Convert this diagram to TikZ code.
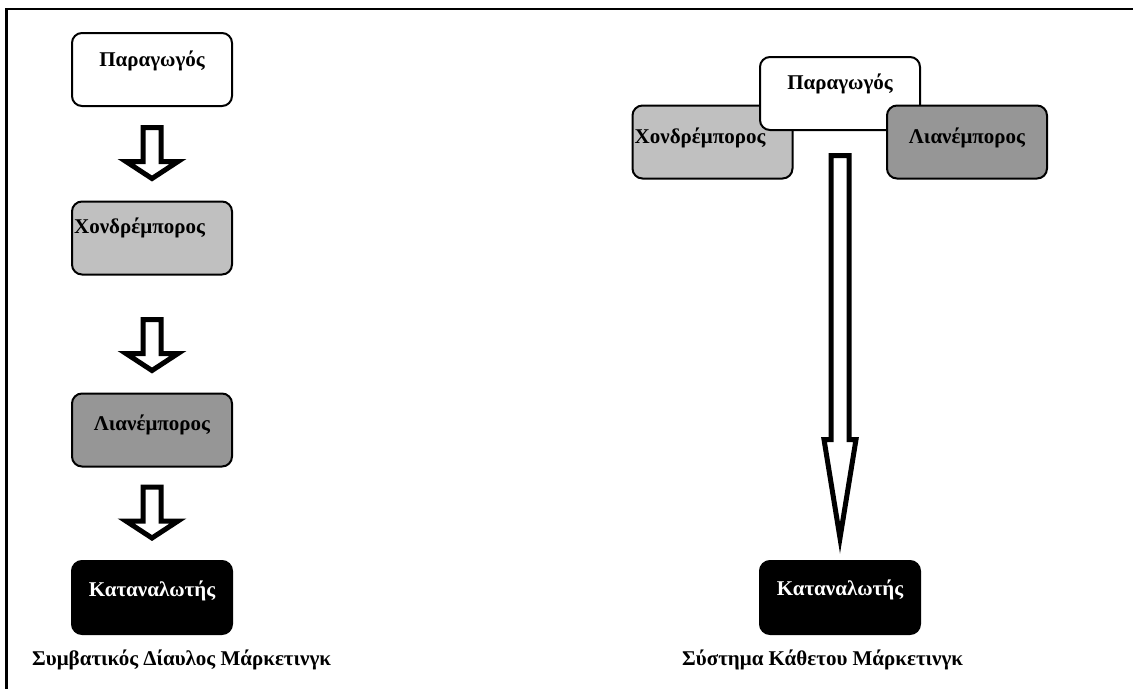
\documentclass[tikz,border=0pt]{standalone}
\usepackage{fontspec}
\setmainfont{Liberation Serif}
\usetikzlibrary{calc}
\definecolor{lightgrey}{HTML}{C0C0C0}
\definecolor{midgrey}{HTML}{969696}
\begin{document}
\begin{tikzpicture}[x=1pt,y=-1pt,
  box/.style={draw=black, line width=2pt, rounded corners=10pt,
    minimum width=160pt, minimum height=73pt, inner sep=0pt},
  lbl/.style={font=\fontsize{21}{25}\selectfont\bfseries, inner sep=0pt},
  blockarrow/.style={draw=black, fill=white, line width=5pt, line join=miter},
]
\useasboundingbox (0,0) rectangle (1133,689);

% page frame (top and left edges)
\draw[line width=2.5pt] (1133,9) -- (6.5,9) -- (6.5,689);

% ---- conventional channel (left column) ----
\node[box, fill=white] (p1) at (152,69.5) {};
\node[box, fill=lightgrey] (x1) at (152,238) {};
\node[box, fill=midgrey] (l1) at (152,430) {};
\node[box, fill=black] (k1) at (152,597.5) {};

\node[lbl, anchor=base] (p1t) at ([yshift=-34pt]p1.north) {Παραγωγός};
\node[lbl, anchor=base west] (x1t) at ([xshift=3pt,yshift=-33pt]x1.north west) {Χονδρέμπορος};
\node[lbl, anchor=base] (l1t) at ([yshift=-38pt]l1.north) {Λιανέμπορος};
\node[lbl, anchor=base, text=white] (k1t) at ([yshift=-36pt]k1.north) {Καταναλωτής};

% short block arrows, each ending just above the next box
\foreach \src/\dst in {p1/x1, x1/l1, l1/k1}{
  \draw[blockarrow] let \p1=(\src.south), \p2=(\dst.north) in
    (\x1-9pt,\y2+73pt) -- (\x1+9pt,\y2+73pt) -- (\x1+9pt,\y2+39pt)
    -- (\x1+26pt,\y2+39pt) -- (\x2,\y2+22pt) -- (\x1-26pt,\y2+39pt)
    -- (\x1-9pt,\y2+39pt) -- cycle;
}

\node[lbl, anchor=base west] (cap1) at (32,665) {Συμβατικός Δίαυλος Μάρκετινγκ};

% ---- vertical marketing system (right column) ----
\node[box, fill=lightgrey] (x2) at (712.5,142) {};
\node[lbl, anchor=base west] (x2t) at ([xshift=3pt,yshift=-39pt]x2.north west) {Χονδρέμπορος};
\node[box, fill=white] (p2) at (840,93.5) {};
\node[lbl, anchor=base] (p2t) at ([yshift=-33pt]p2.north) {Παραγωγός};
\node[box, fill=midgrey] (l2) at (967,142) {};
\node[lbl, anchor=base] (l2t) at ([yshift=-39pt]l2.north) {Λιανέμπορος};
\node[box, fill=black] (k2) at (840,597.5) {};
\node[lbl, anchor=base, text=white] (k2t) at ([yshift=-35pt]k2.north) {Καταναλωτής};

% long block arrow from producer straight to consumer
\draw[blockarrow] let \p1=(p2.south), \p2=(k2.north) in
  (\x1-9pt,\y1-24.5pt) -- (\x1+9pt,\y1-24.5pt) -- (\x1+9pt,\y2+120.5pt)
  -- (\x1+16pt,\y2+120.5pt) -- (\x2,\y2+22pt) -- (\x1-16pt,\y2+120.5pt)
  -- (\x1-9pt,\y2+120.5pt) -- cycle;

\node[lbl, anchor=base west] (cap2) at (682,665) {Σύστημα Κάθετου Μάρκετινγκ};
\end{tikzpicture}
\end{document}
